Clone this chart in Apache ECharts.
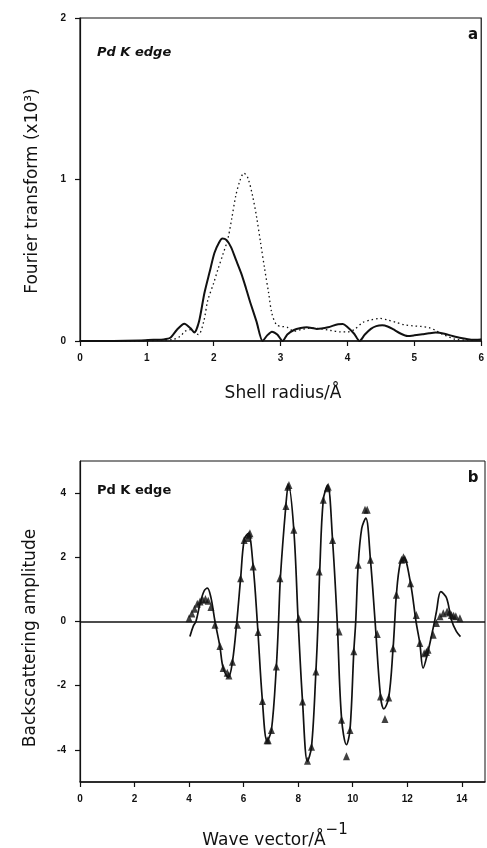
<!DOCTYPE html>
<html>
<head>
<meta charset="utf-8">
<script src="https://cdn.jsdelivr.net/npm/echarts@6/dist/echarts.min.js"></script>
<style>
html,body{margin:0;padding:0;background:#fff;}
#chart{width:487px;height:848px;}
</style>
</head>
<body>
<div id="chart"></div>
<script>
// ---- Panel a: Fourier transform vs shell radius ----
const ftSolidR = [0, 0.5, 0.9, 1.1, 1.25, 1.35, 1.45, 1.56, 1.65, 1.71, 1.78, 1.86, 1.94, 2.01, 2.08, 2.13, 2.19, 2.26, 2.33, 2.41, 2.48, 2.55, 2.64, 2.73, 2.8, 2.87, 2.95, 3.03, 3.1, 3.2, 3.3, 3.39, 3.54, 3.71, 3.86, 3.93, 3.99, 4.1, 4.18, 4.26, 4.35, 4.43, 4.52, 4.6, 4.68, 4.8, 4.9, 5.0, 5.12, 5.22, 5.32, 5.45, 5.57, 5.7, 5.85, 6.0];
const ftSolidAmp = [0, 0, 0.003, 0.008, 0.01, 0.02, 0.07, 0.107, 0.08, 0.052, 0.12, 0.296, 0.43, 0.545, 0.61, 0.634, 0.625, 0.58, 0.505, 0.42, 0.33, 0.234, 0.12, 0.0, 0.035, 0.058, 0.04, 0.0, 0.04, 0.068, 0.08, 0.085, 0.075, 0.085, 0.104, 0.105, 0.09, 0.045, 0.0, 0.04, 0.075, 0.092, 0.097, 0.09, 0.073, 0.045, 0.031, 0.035, 0.042, 0.048, 0.052, 0.045, 0.031, 0.018, 0.008, 0.01];
const ftDotR = [0, 0.8, 1.2, 1.4, 1.5, 1.57, 1.65, 1.77, 1.85, 1.91, 2.0, 2.06, 2.14, 2.21, 2.27, 2.33, 2.39, 2.45, 2.51, 2.58, 2.64, 2.7, 2.76, 2.82, 2.87, 2.94, 3.02, 3.1, 3.2, 3.3, 3.45, 3.6, 3.75, 3.9, 4.0, 4.1, 4.23, 4.35, 4.48, 4.6, 4.73, 4.85, 4.98, 5.1, 5.22, 5.32, 5.42, 5.52, 5.62, 5.8, 6.0];
const ftDotAmp = [0, 0, 0.005, 0.01, 0.03, 0.06, 0.07, 0.04, 0.12, 0.25, 0.36, 0.44, 0.54, 0.63, 0.76, 0.9, 0.99, 1.04, 1.01, 0.9, 0.77, 0.61, 0.45, 0.3, 0.17, 0.1, 0.09, 0.085, 0.06, 0.07, 0.08, 0.075, 0.065, 0.056, 0.056, 0.07, 0.115, 0.13, 0.14, 0.13, 0.115, 0.1, 0.094, 0.09, 0.083, 0.065, 0.042, 0.025, 0.01, 0.005, 0.01];
const ftXTicks = [0, 1, 2, 3, 4, 5, 6];
const ftYTicks = [0, 1, 2];

// ---- Panel b: backscattering amplitude vs wave vector ----
const fitK = [4.03, 4.15, 4.25, 4.4, 4.55, 4.67, 4.8, 4.95, 5.13, 5.25, 5.44, 5.59, 5.75, 5.89, 6.02, 6.17, 6.35, 6.5, 6.69, 6.86, 7.02, 7.2, 7.28, 7.35, 7.55, 7.64, 7.84, 8.0, 8.16, 8.34, 8.49, 8.65, 8.73, 8.79, 8.92, 9.08, 9.26, 9.43, 9.59, 9.77, 9.9, 10.04, 10.11, 10.2, 10.33, 10.48, 10.65, 10.82, 11.02, 11.14, 11.32, 11.48, 11.54, 11.6, 11.73, 11.87, 12.12, 12.32, 12.46, 12.58, 12.76, 12.95, 13.0, 13.07, 13.23, 13.44, 13.62, 13.8, 13.95];
const fitAmp = [-0.47, -0.15, 0, 0.55, 0.95, 1.04, 0.75, 0, -0.78, -1.45, -1.74, -1.25, 0, 1.35, 2.54, 2.75, 1.71, 0, -2.49, -3.72, -3.38, -1.4, 0, 1.4, 3.63, 4.26, 2.86, 0, -2.49, -4.36, -3.9, -1.56, 0, 1.56, 3.79, 4.25, 2.54, 0, -3.01, -3.84, -3.38, -0.93, 0, 1.77, 2.9, 3.22, 1.92, 0, -2.34, -2.72, -2.37, -0.83, 0, 0.83, 1.77, 1.99, 1.19, 0, -0.67, -1.45, -0.93, -0.2, 0, 0.31, 0.93, 0.73, 0.05, -0.31, -0.47];
const expK = [4.0, 4.1, 4.2, 4.3, 4.4, 4.5, 4.6, 4.7, 4.8, 4.95, 5.13, 5.25, 5.4, 5.46, 5.59, 5.77, 5.89, 6.02, 6.15, 6.2, 6.23, 6.35, 6.53, 6.69, 6.86, 6.9, 7.02, 7.2, 7.33, 7.55, 7.62, 7.66, 7.84, 8.02, 8.16, 8.34, 8.49, 8.65, 8.77, 8.92, 9.07, 9.1, 9.26, 9.5, 9.59, 9.77, 9.9, 10.04, 10.2, 10.45, 10.53, 10.65, 10.9, 11.02, 11.18, 11.32, 11.48, 11.6, 11.79, 11.86, 11.91, 12.12, 12.33, 12.46, 12.62, 12.7, 12.76, 12.95, 13.07, 13.2, 13.32, 13.46, 13.55, 13.62, 13.7, 13.78, 13.93];
const expAmp = [0.1, 0.25, 0.4, 0.55, 0.62, 0.68, 0.7, 0.65, 0.45, -0.1, -0.76, -1.45, -1.6, -1.68, -1.25, -0.1, 1.35, 2.54, 2.6, 2.7, 2.75, 1.71, -0.33, -2.48, -3.7, -3.7, -3.38, -1.4, 1.35, 3.6, 4.2, 4.25, 2.86, 0.1, -2.49, -4.34, -3.9, -1.56, 1.56, 3.79, 4.15, 4.2, 2.54, -0.31, -3.06, -4.2, -3.38, -0.93, 1.77, 3.48, 3.48, 1.92, -0.39, -2.34, -3.04, -2.37, -0.83, 0.83, 1.92, 2.0, 1.95, 1.19, 0.2, -0.67, -0.99, -0.95, -0.88, -0.41, -0.05, 0.16, 0.26, 0.31, 0.28, 0.2, 0.18, 0.16, 0.1];
const kXTicks = [0, 2, 4, 6, 8, 10, 12, 14];
const ampYTicks = [-4, -2, 0, 2, 4];

const zip = (xs, ys) => xs.map((x, i) => [x, ys[i]]);

const INK = '#111';
const tickFont = {fontFamily: 'Liberation Sans', fontWeight: 'bold', fontSize: 10, color: INK};
const lineCol = {color: INK, width: 1.2};

function xAx(grid, min, max, ticks, margin) {
  return {
    gridIndex: grid, type: 'value', min: min, max: max,
    axisLine: {show: true, onZero: false, lineStyle: {color: INK, width: 1.5}},
    axisTick: {show: true, inside: false, length: 5, lineStyle: lineCol, customValues: ticks},
    axisLabel: Object.assign({margin: margin, customValues: ticks}, tickFont),
    splitLine: {show: false}
  };
}
function yAx(grid, min, max, ticks) {
  return {
    gridIndex: grid, type: 'value', min: min, max: max,
    axisLine: {show: true, onZero: false, lineStyle: {color: INK, width: 1.2}},
    axisTick: {show: true, inside: false, length: 5, lineStyle: lineCol, customValues: ticks},
    axisLabel: Object.assign({margin: 14, customValues: ticks}, tickFont),
    splitLine: {show: false}
  };
}

const titleFont = {fontFamily: 'DejaVu Sans', fontSize: 17, fill: INK};

const option = {
  backgroundColor: '#fff',
  animation: false,
  grid: [
    {left: 80, right: 2, top: 18, height: 323, show: true, borderColor: INK, borderWidth: 1.2, backgroundColor: 'transparent'},
    {left: 80, right: 2, top: 461, height: 321, show: true, borderColor: INK, borderWidth: 1, backgroundColor: 'transparent'}
  ],
  xAxis: [
    xAx(0, 0, 6, ftXTicks, 12),
    xAx(1, 0, 14.85, kXTicks, 12)
  ],
  yAxis: [
    yAx(0, 0, 2, ftYTicks),
    yAx(1, -5, 5, ampYTicks)
  ],
  series: [
    {
      type: 'line', xAxisIndex: 0, yAxisIndex: 0, data: zip(ftDotR, ftDotAmp),
      showSymbol: false, smooth: 0.3, lineStyle: {color: INK, width: 1.3, type: [1.5, 3]}
    },
    {
      type: 'line', xAxisIndex: 0, yAxisIndex: 0, data: zip(ftSolidR, ftSolidAmp),
      showSymbol: false, smooth: 0.25, lineStyle: {color: INK, width: 2}
    },
    {
      type: 'line', xAxisIndex: 1, yAxisIndex: 1, data: zip(fitK, fitAmp),
      showSymbol: false, smooth: 0.35, lineStyle: {color: INK, width: 1.7},
      markLine: {
        silent: true, symbol: 'none', label: {show: false},
        lineStyle: {color: INK, width: 1.5, type: 'solid'},
        data: [{yAxis: 0}]
      }
    },
    {
      type: 'scatter', xAxisIndex: 1, yAxisIndex: 1, data: zip(expK, expAmp),
      symbol: 'triangle', symbolSize: [7, 8], itemStyle: {color: INK}, z: 5
    }
  ],
  graphic: [
    {type: 'text', x: 97, y: 46, style: {text: 'Pd K edge', fontFamily: 'DejaVu Sans', fontStyle: 'italic', fontWeight: 'bold', fontSize: 13, fill: INK}},
    {type: 'text', x: 473, y: 35, style: {text: 'a', fontFamily: 'DejaVu Sans', fontWeight: 'bold', fontSize: 15, fill: INK, align: 'center', verticalAlign: 'middle'}},
    {type: 'text', x: 97, y: 484, style: {text: 'Pd K edge', fontFamily: 'DejaVu Sans', fontWeight: 'bold', fontSize: 13, fill: INK}},
    {type: 'text', x: 473, y: 478, style: {text: 'b', fontFamily: 'DejaVu Sans', fontWeight: 'bold', fontSize: 15, fill: INK, align: 'center', verticalAlign: 'middle'}},
    {type: 'text', x: 33, y: 191, rotation: Math.PI / 2,
      style: Object.assign({text: 'Fourier transform (x10³)', align: 'center', verticalAlign: 'middle'}, titleFont)},
    {type: 'text', x: 283, y: 394,
      style: Object.assign({text: 'Shell radius/Å', align: 'center', verticalAlign: 'middle'}, titleFont)},
    {type: 'text', x: 31, y: 638, rotation: Math.PI / 2,
      style: Object.assign({text: 'Backscattering amplitude', align: 'center', verticalAlign: 'middle'}, titleFont)},
    {type: 'text', x: 275, y: 836,
      style: {
        text: '{m|Wave vector/Å}{s|−1}', align: 'center', verticalAlign: 'middle',
        rich: {
          m: {fontFamily: 'DejaVu Sans', fontSize: 17, fill: INK, lineHeight: 26, verticalAlign: 'bottom'},
          s: {fontFamily: 'DejaVu Sans', fontSize: 15, fill: INK, lineHeight: 26, verticalAlign: 'top'}
        }
      }}
  ]
};

const chart = echarts.init(document.getElementById('chart'), null, {renderer: 'canvas'});
chart.setOption(option);
</script>
</body>
</html>
